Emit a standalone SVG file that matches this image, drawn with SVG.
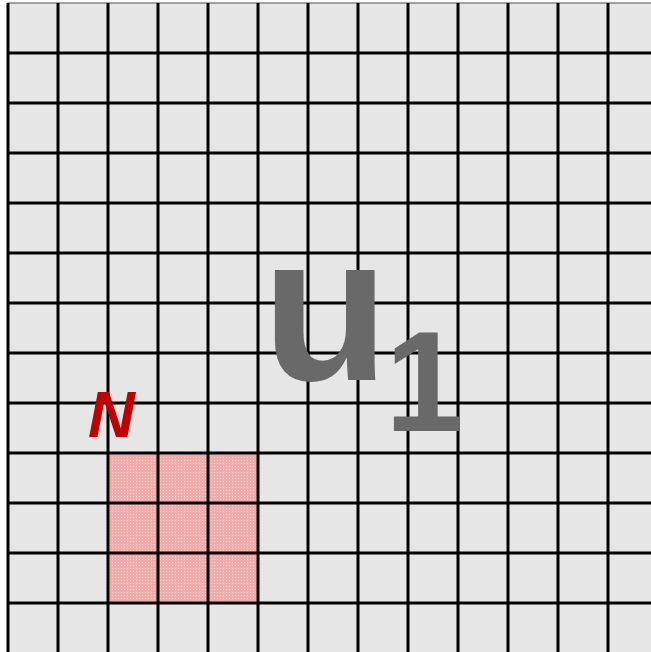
<svg xmlns="http://www.w3.org/2000/svg" width="651" height="652" viewBox="0 0 651 652">
<defs>
<pattern id="dots" width="3" height="3" patternUnits="userSpaceOnUse">
<rect width="3" height="3" fill="#f5baba"/>
<rect x="1" y="1" width="1" height="1" fill="#f7e4e4"/>
</pattern>
<style>
.grid line{stroke:#000;stroke-width:3}
</style>
</defs>
<rect x="0" y="0" width="651" height="652" fill="#ffffff"/>
<rect x="8" y="3" width="650" height="650" fill="#e6e6e6" stroke="#888" stroke-width="1.5"/>
<g id="region-N">
<rect x="108" y="453" width="150" height="150" fill="url(#dots)"/>
</g>
<g id="grid" class="grid">
<line x1="8" y1="3" x2="8" y2="652" stroke-width="2"/>
<line x1="58" y1="3" x2="58" y2="652"/>
<line x1="108" y1="3" x2="108" y2="652"/>
<line x1="158" y1="3" x2="158" y2="652"/>
<line x1="208" y1="3" x2="208" y2="652"/>
<line x1="258" y1="3" x2="258" y2="652"/>
<line x1="308" y1="3" x2="308" y2="652"/>
<line x1="358" y1="3" x2="358" y2="652"/>
<line x1="408" y1="3" x2="408" y2="652"/>
<line x1="458" y1="3" x2="458" y2="652"/>
<line x1="508" y1="3" x2="508" y2="652"/>
<line x1="558" y1="3" x2="558" y2="652"/>
<line x1="608" y1="3" x2="608" y2="652"/>
<line x1="8" y1="53" x2="651" y2="53"/>
<line x1="8" y1="103" x2="651" y2="103"/>
<line x1="8" y1="153" x2="651" y2="153"/>
<line x1="8" y1="203" x2="651" y2="203"/>
<line x1="8" y1="253" x2="651" y2="253"/>
<line x1="8" y1="303" x2="651" y2="303"/>
<line x1="8" y1="353" x2="651" y2="353"/>
<line x1="8" y1="403" x2="651" y2="403"/>
<line x1="8" y1="453" x2="651" y2="453"/>
<line x1="8" y1="503" x2="651" y2="503"/>
<line x1="8" y1="553" x2="651" y2="553"/>
<line x1="8" y1="603" x2="651" y2="603"/>
</g>
<g id="region-N-tint">
<rect x="108" y="453" width="150" height="150" fill="#c00000" opacity="0.08"/>
</g>
<g id="label-N">
<text x="88" y="437" font-family="'Liberation Sans', Arial, sans-serif" font-size="65" font-weight="700" font-style="italic" fill="#c00000">N</text>
</g>
<g id="label-U1">
<text x="262" y="380" font-family="'Liberation Sans', Arial, sans-serif" font-size="208" font-weight="700" fill="#696969">u</text>
<text x="385" y="431" font-family="'Liberation Sans', Arial, sans-serif" font-size="142" font-weight="700" fill="#696969">1</text>
</g>
</svg>
